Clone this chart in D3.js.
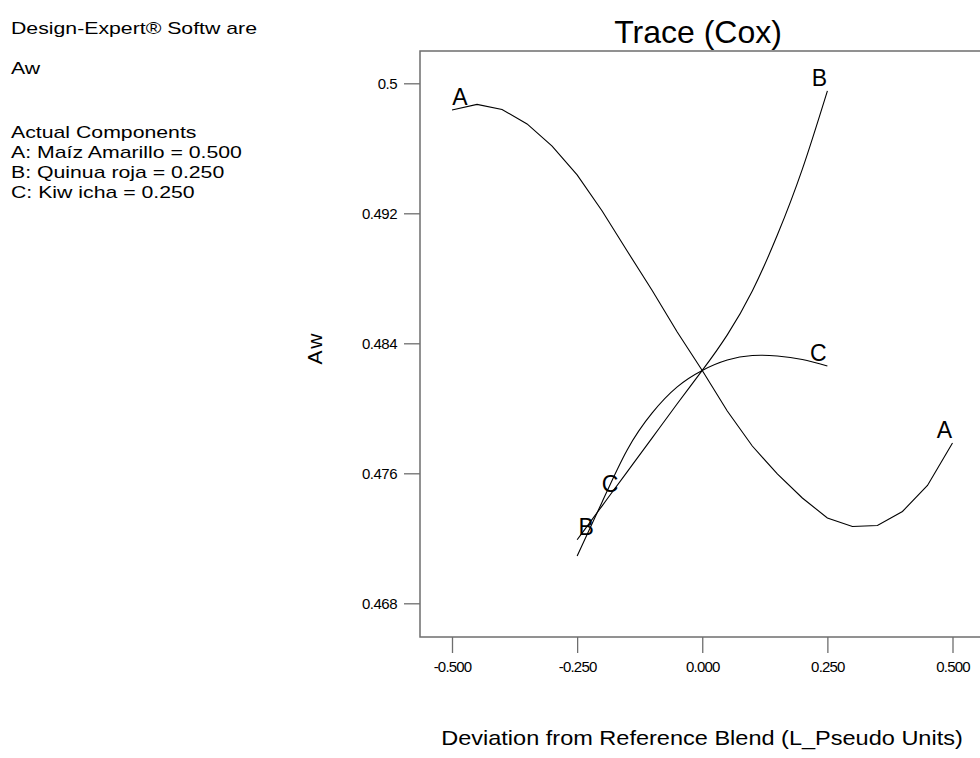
<!DOCTYPE html>
<html>
<head>
<meta charset="utf-8">
<script src="https://cdn.jsdelivr.net/npm/d3@7"></script>
<style>
  html, body { margin: 0; padding: 0; background: #fff; }
  svg { display: block; }
  text { font-family: "Liberation Sans", Arial, sans-serif; fill: #000; }
</style>
</head>
<body>
<svg id="chart" width="980" height="758"></svg>
<script>
// Cox trace: deviation from the reference blend for each component
const deviationFine = [-0.5, -0.45, -0.4, -0.35, -0.3, -0.25, -0.2, -0.15, -0.1, -0.05,
                       0, 0.05, 0.1, 0.15, 0.2, 0.25, 0.3, 0.35, 0.4, 0.45, 0.5];
const deviationShort = [-0.25, -0.2, -0.15, -0.1, -0.05, 0, 0.05, 0.1, 0.15, 0.2, 0.25];

// Predicted Aw along each trace
const awA = [0.49836, 0.49870, 0.49839, 0.49750, 0.49614, 0.49436, 0.49214, 0.48968, 0.48725, 0.48470,
             0.48233, 0.47983, 0.47768, 0.47596, 0.47448, 0.47325, 0.47273, 0.47279, 0.47365, 0.47525, 0.47786];
const awB = [0.47191, 0.47400, 0.47609, 0.47818, 0.48028, 0.48233, 0.48452, 0.48722, 0.49066, 0.49472, 0.49953];
const awC = [0.47091, 0.47424, 0.47744, 0.47972, 0.48132, 0.48233, 0.48297, 0.48325, 0.48322, 0.48300, 0.48260];

const seriesNames = ["A", "B", "C"];

// Axis ticks
const xTicks = [-0.5, -0.25, 0, 0.25, 0.5];
const xTickLabels = ["-0.500", "-0.250", "0.000", "0.250", "0.500"];
const yTicks = [0.468, 0.476, 0.484, 0.492, 0.5];
const yTickLabels = ["0.468", "0.476", "0.484", "0.492", "0.5"];

// Side panel text: header, response, then the reference blend
const headerLines = ["Design-Expert® Softw are", "Aw"];
const componentLines = [
  "Actual Components",
  "A: Maíz Amarillo = 0.500",
  "B: Quinua roja = 0.250",
  "C: Kiw icha = 0.250"
];

const svg = d3.select("#chart");

const x = d3.scaleLinear().domain([-0.5, 0.5]).range([452, 952.5]);
const y = d3.scaleLinear().domain([0.468, 0.5]).range([603.3, 83.3]);

const frame = { left: 420, right: 992, top: 51, bottom: 637 };
const axisColor = "#6e6e6e";

// Widen a text element horizontally by a fixed factor (wide export font)
function widen(sel, factor) {
  sel.each(function () {
    const w = this.getComputedTextLength();
    if (w > 0) {
      d3.select(this)
        .attr("textLength", w * factor)
        .attr("lengthAdjust", "spacingAndGlyphs");
    }
  });
}

// Plot frame
svg.append("rect")
  .attr("x", frame.left).attr("y", frame.top)
  .attr("width", frame.right - frame.left).attr("height", frame.bottom - frame.top)
  .attr("fill", "none").attr("stroke", axisColor).attr("stroke-width", 1.5);

// X axis (ticks hang below the frame)
const xAxis = d3.axisBottom(x)
  .tickValues(xTicks)
  .tickFormat((d, i) => xTickLabels[i])
  .tickSize(16)
  .tickPadding(8)
  .tickSizeOuter(0);
const gx = svg.append("g").attr("transform", `translate(0,${frame.bottom})`).call(xAxis);
gx.select(".domain").remove();
gx.selectAll(".tick line").attr("stroke", axisColor).attr("stroke-width", 1.3);
gx.selectAll(".tick text")
  .attr("font-family", "Liberation Sans, Arial, sans-serif")
  .attr("font-size", 15).attr("fill", "#000").attr("letter-spacing", -0.8);

// Y axis (ticks hang left of the frame)
const yAxis = d3.axisLeft(y)
  .tickValues(yTicks)
  .tickFormat((d, i) => yTickLabels[i])
  .tickSize(16)
  .tickPadding(7)
  .tickSizeOuter(0);
const gy = svg.append("g").attr("transform", `translate(${frame.left},0)`).call(yAxis);
gy.select(".domain").remove();
gy.selectAll(".tick line").attr("stroke", axisColor).attr("stroke-width", 1.3);
gy.selectAll(".tick text")
  .attr("font-family", "Liberation Sans, Arial, sans-serif")
  .attr("font-size", 15).attr("fill", "#000").attr("letter-spacing", -0.5);

// Trace curves: A as a polyline, B and C smoothed through their points
const traces = [
  { name: "A", xs: deviationFine, ys: awA, curve: d3.curveLinear },
  { name: "B", xs: deviationShort, ys: awB, curve: d3.curveNatural },
  { name: "C", xs: deviationShort, ys: awC, curve: d3.curveNatural }
];

svg.append("g").selectAll("path")
  .data(traces)
  .join("path")
  .attr("d", t => d3.line()
      .x(d => x(d[0]))
      .y(d => y(d[1]))
      .curve(t.curve)(t.xs.map((v, i) => [v, t.ys[i]])))
  .attr("fill", "none")
  .attr("stroke", "#000")
  .attr("stroke-width", 1.1);

// Trace labels, anchored to points on each curve
const labelSpots = [
  { trace: 0, idx: 0, dx: 8, dy: -5 },
  { trace: 0, idx: 20, dx: -8, dy: -5 },
  { trace: 1, idx: 0, dx: 9, dy: -5 },
  { trace: 1, idx: 10, dx: -8, dy: -5 },
  { trace: 2, idx: 1, dx: 8, dy: -10 },
  { trace: 2, idx: 10, dx: -9, dy: -5 }
];

svg.append("g").selectAll("text")
  .data(labelSpots)
  .join("text")
  .attr("x", s => x(traces[s.trace].xs[s.idx]) + s.dx)
  .attr("y", s => y(traces[s.trace].ys[s.idx]) + s.dy)
  .attr("text-anchor", "middle")
  .attr("font-size", 23)
  .text(s => seriesNames[s.trace]);

// Title
svg.append("text")
  .attr("x", 698).attr("y", 43)
  .attr("text-anchor", "middle")
  .attr("font-size", 32)
  .text("Trace (Cox)");

// Axis titles
svg.append("text")
  .attr("transform", "translate(322,348) rotate(-90)")
  .attr("text-anchor", "middle")
  .attr("font-size", 21)
  .attr("letter-spacing", 2)
  .text("Aw");

svg.append("text")
  .attr("x", 702).attr("y", 745)
  .attr("text-anchor", "middle")
  .attr("font-size", 21)
  .text("Deviation from Reference Blend (L_Pseudo Units)")
  .call(widen, 1.12);

// Side panel
const side = svg.append("g").attr("font-size", 17);
side.selectAll("text.head")
  .data(headerLines)
  .join("text")
  .attr("class", "head")
  .attr("x", 11)
  .attr("y", (d, i) => 34 + i * 40)
  .text(d => d)
  .call(widen, 1.25);
side.selectAll("text.comp")
  .data(componentLines)
  .join("text")
  .attr("class", "comp")
  .attr("x", 11)
  .attr("y", (d, i) => 138 + i * 20)
  .text(d => d)
  .call(widen, 1.25);
</script>
</body>
</html>
